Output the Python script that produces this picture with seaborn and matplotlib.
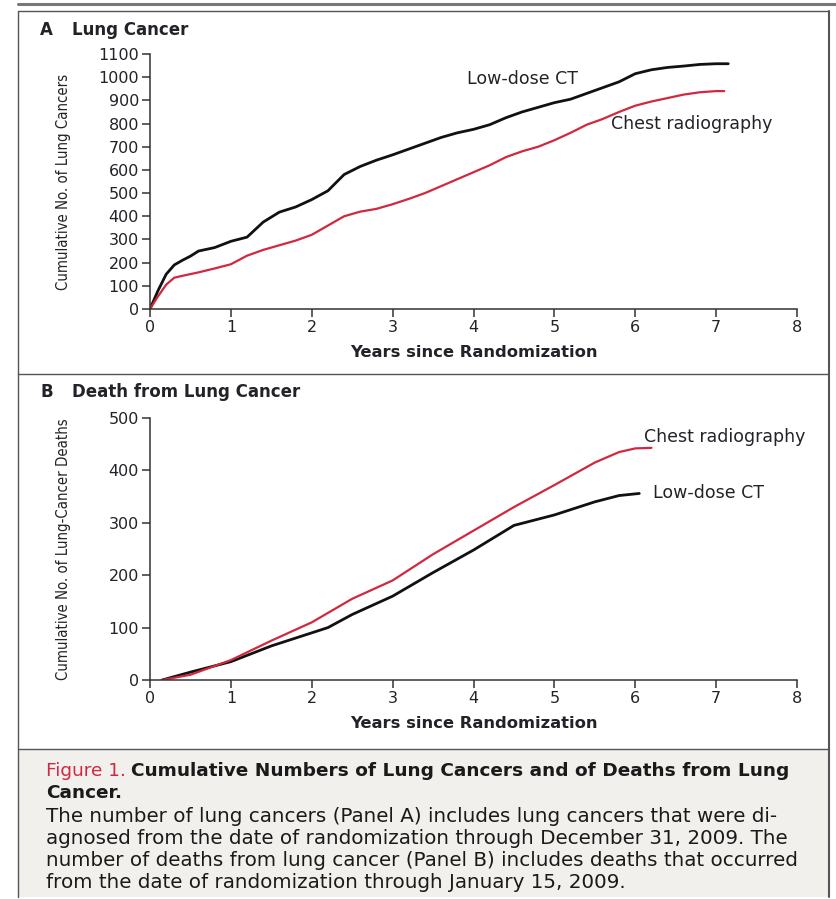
import matplotlib
matplotlib.use("Agg")
import matplotlib.pyplot as plt
from matplotlib.lines import Line2D
from matplotlib.patches import Rectangle
import pandas as pd
import seaborn as sns

# Panel A: cumulative number of lung cancers
years_a_ct = [0, 0.1, 0.2, 0.3, 0.4, 0.5, 0.6, 0.8, 1.0, 1.2, 1.4, 1.6, 1.8, 2.0, 2.2,
              2.4, 2.6, 2.8, 3.0, 3.2, 3.4, 3.6, 3.8, 4.0, 4.2, 4.4, 4.6, 4.8, 5.0,
              5.2, 5.4, 5.6, 5.8, 6.0, 6.2, 6.4, 6.6, 6.8, 7.0, 7.15]
cases_ct = [0, 80, 150, 190, 210, 228, 250, 265, 292, 310, 375, 418, 440, 472, 510,
            580, 615, 642, 665, 690, 715, 740, 760, 775, 795, 825, 850, 870, 890,
            905, 930, 955, 980, 1015, 1032, 1042, 1048, 1055, 1058, 1058]

years_a_xr = [0, 0.1, 0.2, 0.3, 0.4, 0.6, 0.8, 1.0, 1.2, 1.4, 1.6, 1.8, 2.0, 2.2,
              2.4, 2.6, 2.8, 3.0, 3.2, 3.4, 3.6, 3.8, 4.0, 4.2, 4.4, 4.6, 4.8, 5.0,
              5.2, 5.4, 5.6, 5.8, 6.0, 6.2, 6.4, 6.6, 6.8, 7.0, 7.1]
cases_xr = [0, 55, 105, 135, 143, 158, 175, 193, 230, 255, 275, 295, 320, 360,
            400, 420, 432, 452, 475, 500, 530, 560, 590, 620, 655, 680, 700, 728,
            760, 795, 820, 850, 877, 895, 910, 925, 935, 940, 940]

# Panel B: cumulative number of lung-cancer deaths
years_b_ct = [0.15, 0.5, 1.0, 1.5, 2.0, 2.2, 2.5, 3.0, 3.5, 4.0, 4.5, 5.0, 5.5, 5.8, 6.05]
deaths_ct = [0, 15, 35, 65, 90, 100, 125, 160, 205, 248, 295, 315, 340, 352, 356]

years_b_xr = [0.15, 0.5, 1.0, 1.5, 2.0, 2.5, 3.0, 3.5, 4.0, 4.5, 5.0, 5.5, 5.8, 6.0, 6.2]
deaths_xr = [0, 10, 38, 75, 110, 155, 190, 240, 285, 330, 372, 415, 435, 442, 443]

groups = ["Low-dose CT", "Chest radiography"]
palette = {"Low-dose CT": "#111111", "Chest radiography": "#d1283f"}

x_ticks = list(range(0, 9))
y_ticks_a = list(range(0, 1101, 100))
y_ticks_b = list(range(0, 501, 100))

df_a = pd.concat([
    pd.DataFrame({"years": years_a_ct, "count": cases_ct, "group": groups[0]}),
    pd.DataFrame({"years": years_a_xr, "count": cases_xr, "group": groups[1]}),
])
df_b = pd.concat([
    pd.DataFrame({"years": years_b_ct, "count": deaths_ct, "group": groups[0]}),
    pd.DataFrame({"years": years_b_xr, "count": deaths_xr, "group": groups[1]}),
])

sns.set_style("ticks")
plt.rcParams["font.family"] = ["DejaVu Sans"]

W, H = 836, 899
fig = plt.figure(figsize=(W / 100, H / 100), dpi=100)


def fx(px):
    return px / W


def fy(py):
    return 1 - py / H


text_col = "#222228"
label_size = 12.5


def style_axes(ax, yticks, ylabel):
    ax.set_xlim(0, 8)
    ax.set_ylim(0, yticks[-1])
    ax.set_xticks(x_ticks)
    ax.set_yticks(yticks)
    sns.despine(ax=ax)
    for side in ("left", "bottom"):
        ax.spines[side].set_color("#333333")
        ax.spines[side].set_linewidth(1.1)
    ax.tick_params(axis="both", direction="out", length=6, width=1.1,
                   color="#333333", labelsize=11.5, labelcolor=text_col, pad=2)
    ax.set_xlabel("Years since Randomization", fontsize=11.8, fontweight="bold",
                  color=text_col, labelpad=7)
    ax.set_ylabel(ylabel, fontsize=10.7, color=text_col, fontstretch="condensed")
    ax.patch.set_alpha(0)


# Panel A
ax_a = fig.add_axes([fx(150), fy(309), fx(797 - 150), (309 - 54) / H])
sns.lineplot(data=df_a, x="years", y="count", hue="group", palette=palette,
             hue_order=groups, ax=ax_a, linewidth=1.6, legend=False)
ax_a.lines[0].set_linewidth(2.0)
style_axes(ax_a, y_ticks_a, "Cumulative No. of Lung Cancers")
ax_a.yaxis.set_label_coords(-0.122, 0.5)
ax_a.text(4.6, 990, "Low-dose CT", fontsize=label_size, color=text_col, ha="center", va="center")
ax_a.text(6.7, 800, "Chest radiography", fontsize=label_size, color=text_col,
          ha="center", va="center")

# Panel B
ax_b = fig.add_axes([fx(150), fy(680), fx(797 - 150), (680 - 418) / H])
sns.lineplot(data=df_b, x="years", y="count", hue="group", palette=palette,
             hue_order=groups, ax=ax_b, linewidth=1.6, legend=False)
ax_b.lines[0].set_linewidth(2.0)
style_axes(ax_b, y_ticks_b, "Cumulative No. of Lung-Cancer Deaths")
ax_b.yaxis.set_label_coords(-0.122, 0.5)
ax_b.text(7.1, 463, "Chest radiography", fontsize=label_size, color=text_col,
          ha="center", va="center")
ax_b.text(6.9, 357, "Low-dose CT", fontsize=label_size, color=text_col, ha="center", va="center")

# Panel headings
head_size = 12
fig.text(fx(40), fy(30), "A", fontsize=head_size, fontweight="bold", color=text_col, va="center")
fig.text(fx(72), fy(30), "Lung Cancer", fontsize=head_size, fontweight="bold",
         color=text_col, va="center")
fig.text(fx(40), fy(392), "B", fontsize=head_size, fontweight="bold", color=text_col, va="center")
fig.text(fx(72), fy(392), "Death from Lung Cancer", fontsize=head_size, fontweight="bold",
         color=text_col, va="center")

# Frame, panel divider and caption box
frame_col = "#555555"
fig.add_artist(Rectangle((fx(18), fy(897)), fx(829 - 18), (897 - 749) / H,
                         transform=fig.transFigure, facecolor="#f2f0ed",
                         edgecolor="none", zorder=-1))
fig.add_artist(Line2D([fx(18), fx(836)], [fy(4), fy(4)], color="#777777", lw=2.2))
fig.add_artist(Line2D([fx(18), fx(829)], [fy(11), fy(11)], color=frame_col, lw=1.0))
fig.add_artist(Line2D([fx(18), fx(18)], [fy(11), fy(897)], color=frame_col, lw=1.0))
fig.add_artist(Line2D([fx(829), fx(829)], [fy(11), fy(897)], color=frame_col, lw=1.5))
fig.add_artist(Line2D([fx(18), fx(829)], [fy(374), fy(374)], color=frame_col, lw=1.0))
fig.add_artist(Line2D([fx(18), fx(829)], [fy(749), fy(749)], color=frame_col, lw=1.0))

# Caption
fig.canvas.draw()
renderer = fig.canvas.get_renderer()
title_size = 13.3
body_size = 14.3
t1 = fig.text(fx(46), fy(771), "Figure 1.", fontsize=title_size, color="#d1283f",
              va="center")
bb = t1.get_window_extent(renderer=renderer)
fig.text(fx(bb.x1 + 5), fy(771), "Cumulative Numbers of Lung Cancers and of Deaths from Lung",
         fontsize=title_size, color="#1a1a1a", fontweight="bold", va="center")
fig.text(fx(46), fy(793), "Cancer.", fontsize=title_size, color="#1a1a1a",
         fontweight="bold", va="center")
body = [
    "The number of lung cancers (Panel A) includes lung cancers that were di-",
    "agnosed from the date of randomization through December 31, 2009. The",
    "number of deaths from lung cancer (Panel B) includes deaths that occurred",
    "from the date of randomization through January 15, 2009.",
]
for i, line in enumerate(body):
    fig.text(fx(46), fy(816 + 22 * i), line, fontsize=body_size, color="#1a1a1a", va="center")

fig.savefig("out.png", dpi=100)
